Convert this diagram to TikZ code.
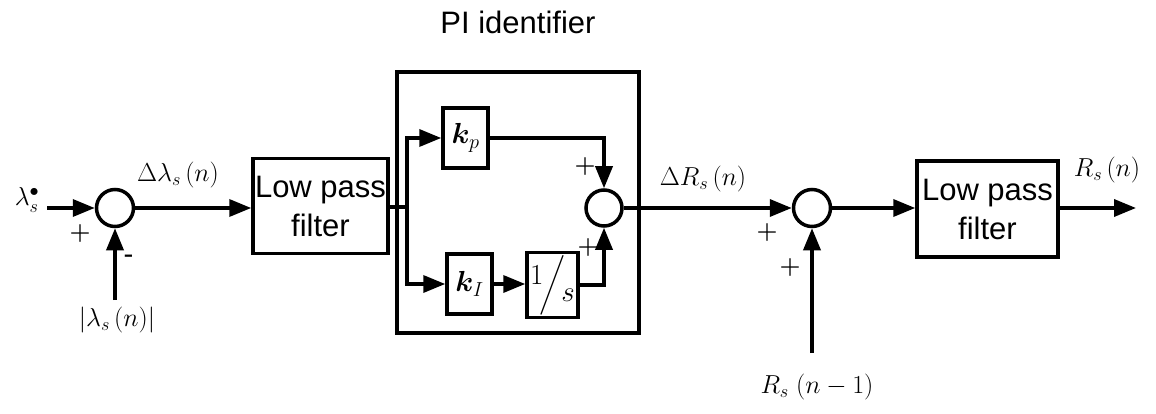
\RequirePackage{fix-cm}
\documentclass[tikz,border=0pt]{standalone}
\usepackage{amsmath}
\usepackage{bm}
\usepackage{fontspec}
\setsansfont{Liberation Sans}
\usetikzlibrary{arrows.meta}
\begin{document}
\begin{tikzpicture}[x=1pt,y=-1pt,
  line width=3.5pt,
  >={Triangle[length=22pt,width=17pt]},
  blk/.style={draw, rectangle, inner sep=0pt, align=center},
  lpf/.style={blk, font=\sffamily\fontsize{31}{39}\selectfont},
  gain/.style={blk, font=\fontsize{29}{33}\selectfont},
  sum/.style={draw, circle, minimum size=37pt, inner sep=0pt},
  lbl/.style={font=\fontsize{26}{30}\selectfont, inner sep=0pt},
  sgn/.style={font=\fontsize{24}{27}\selectfont, inner sep=0pt},
]
\useasboundingbox (0,0) rectangle (1156,414);

% frame of the PI identifier
\node[draw, rectangle, minimum width=242pt, minimum height=261pt, inner sep=0pt] (pibox) at (518,202.5) {};
\node[font=\sffamily\fontsize{31}{34}\selectfont, inner sep=0pt] (pititle) at (518,22) {PI identifier};

% blocks
\node[sum] (s1) at (115,208) {};
\node[lpf, minimum width=135pt, minimum height=95pt] (lpf1) at (320.5,206) {Low pass\\filter};
\node[gain, minimum width=45pt, minimum height=60pt] (kp) at (465.5,138) {$\bm{k}_{p}$};
\node[gain, minimum width=45pt, minimum height=60pt] (kI) at (469.5,284) {$\bm{k}_{I}$};
\node[gain, minimum width=51pt, minimum height=65pt] (invs) at (552.5,285) {\raisebox{8pt}{$1$}\kern-4pt$\Big/$\kern-4pt\raisebox{-9pt}{$s$}};
\node[sum, minimum size=36pt] (s2) at (604,208) {};
\node[sum] (s3) at (812,208) {};
\node[lpf, minimum width=141pt, minimum height=96pt] (lpf2) at (987.5,209) {Low pass\\filter};

% free ends
\coordinate (lin) at (47,208);
\coordinate (lbot) at (115,300);
\coordinate (br) at (407,207);
\coordinate (rbot) at (812,353);
\coordinate (out) at (1136,208);

% connectors
\draw[->] (lin) -- (s1);
\draw[->] (lbot) -- (s1);
\draw[->] (s1) -- (s1 -| lpf1.west);
\draw (lpf1.east |- br) -- (br);
\draw[->] (br) |- (kp);
\draw[->] (br) |- (kI);
\draw[->] (kI) -- (kI -| invs.west);
\draw[->] (kp.east) -| (s2.north);
\draw[->] (invs.east) -| (s2.south);
\draw[->] (s2) -- (s3);
\draw[->] (rbot) -- (s3);
\draw[->] (s3) -- (s3 -| lpf2.west);
\draw[->] (lpf2.east |- out) -- (out);

% labels
\node[lbl] (lstar) at (27,200) {$\lambda_s^{\bullet}$};
\node[sgn] (p1) at (80,233) {$\bm{+}$};
\node[sgn] (m1) at (129,258) {\textbf{-}};
\node[lbl] (dlam) at (178,175) {$\Delta\lambda_s\,(n)$};
\node[lbl] (abslam) at (117,320) {$\left|\lambda_s\,(n)\right|$};
\node[sgn] (p2) at (585,167) {$\bm{+}$};
\node[sgn] (p3) at (588,247) {$\bm{+}$};
\node[lbl] (dR) at (703,179) {$\Delta R_s\,(n)$};
\node[sgn] (p4) at (767,232) {$\bm{+}$};
\node[sgn] (p5) at (790,267) {$\bm{+}$};
\node[lbl] (Rprev) at (817,387) {$R_s\;(n-1)$};
\node[lbl] (Rout) at (1107,170) {$R_s\,(n)$};
\end{tikzpicture}
\end{document}
